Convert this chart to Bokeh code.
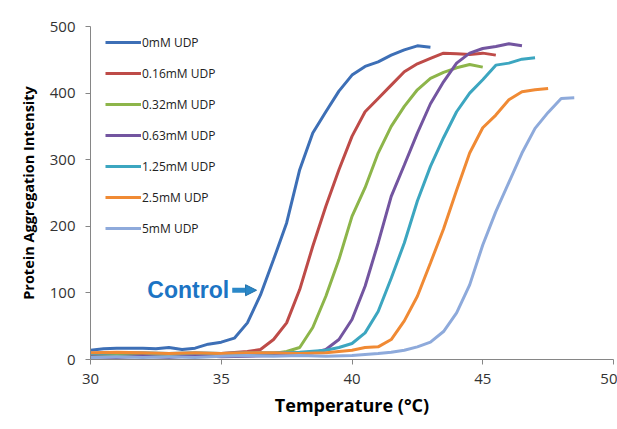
from bokeh.plotting import figure
from bokeh.models import Range1d, Legend, LegendItem, Label, Arrow, NormalHead, FixedTicker
from bokeh.embed import file_html
from bokeh.resources import INLINE

# ---- data (temperature in °C, aggregation intensity) ----
series_names = ["0mM UDP", "0.16mM UDP", "0.32mM UDP", "0.63mM UDP",
                "1.25mM UDP", "2.5mM UDP", "5mM UDP"]
series_colors = ["#3D6FB6", "#BE4B48", "#8DB54A", "#7355A0",
                 "#3CA6C0", "#F08A34", "#8EAADB"]

t_0mM = [30, 30.5, 31, 31.5, 32, 32.5, 33, 33.5, 34, 34.5, 35, 35.5, 36, 36.5, 37,
         37.5, 38, 38.5, 39, 39.5, 40, 40.5, 41, 41.5, 42, 42.5, 43]
i_0mM = [14, 16, 17, 17, 17, 16, 18, 15, 17, 23, 26, 32, 55, 97, 150,
         205, 285, 340, 372, 403, 427, 440, 447, 457, 465, 471, 469]

t_016mM = [30, 31, 32, 33, 34, 35, 36, 36.5, 37, 37.5, 38, 38.5, 39, 39.5, 40,
           40.5, 41, 41.5, 42, 42.5, 43, 43.5, 44, 44.5, 45, 45.5]
i_016mM = [8, 9, 8, 9, 8, 9, 12, 15, 30, 55, 105, 170, 230, 285, 335,
           372, 392, 412, 432, 444, 452, 460, 459, 458, 460, 457]

t_032mM = [30, 31, 32, 33, 34, 35, 36, 37, 37.5, 38, 38.5, 39, 39.5, 40, 40.5,
           41, 41.5, 42, 42.5, 43, 43.5, 44, 44.5, 45]
i_032mM = [5, 6, 5, 7, 6, 6, 8, 9, 12, 18, 48, 95, 150, 215, 258,
           310, 350, 380, 405, 422, 431, 438, 443, 439]

t_063mM = [30, 31, 32, 33, 34, 35, 36, 37, 38, 38.5, 39, 39.5, 40, 40.5, 41,
           41.5, 42, 42.5, 43, 43.5, 44, 44.5, 45, 45.5, 46, 46.5]
i_063mM = [4, 3, 5, 3, 6, 4, 5, 6, 8, 10, 15, 30, 60, 110, 175,
           245, 292, 340, 384, 417, 445, 460, 467, 470, 474, 471]

t_125mM = [30, 31, 32, 33, 34, 35, 36, 37, 38, 39, 39.5, 40, 40.5, 41, 41.5,
           42, 42.5, 43, 43.5, 44, 44.5, 45, 45.5, 46, 46.5, 47]
i_125mM = [9, 10, 10, 9, 10, 9, 10, 10, 11, 14, 18, 24, 40, 72, 122,
           175, 238, 290, 333, 372, 400, 420, 442, 445, 451, 453]

t_25mM = [30, 31, 32, 33, 34, 35, 36, 37, 38, 39, 40, 40.5, 41, 41.5, 42,
          42.5, 43, 43.5, 44, 44.5, 45, 45.5, 46, 46.5, 47, 47.5]
i_25mM = [10, 11, 10, 9, 10, 9, 10, 10, 9, 10, 14, 18, 19, 30, 58,
          95, 145, 196, 254, 310, 348, 367, 390, 402, 405, 407]

t_5mM = [30, 31, 32, 33, 34, 35, 36, 37, 38, 39, 40, 41, 41.5, 42, 42.5,
         43, 43.5, 44, 44.5, 45, 45.5, 46, 46.5, 47, 47.5, 48, 48.5]
i_5mM = [3, 4, 3, 4, 3, 5, 6, 5, 6, 5, 6, 9, 11, 14, 19,
         26, 42, 70, 112, 172, 222, 266, 310, 347, 371, 392, 393]

x_ticks = [30, 35, 40, 45, 50]
y_ticks = [0, 100, 200, 300, 400, 500]

annot_text = "Control"
annot_text_x, annot_text_y = 35.3, 104
arrow_x0, arrow_x1, arrow_y = 35.42, 36.35, 104

all_t = [t_0mM, t_016mM, t_032mM, t_063mM, t_125mM, t_25mM, t_5mM]
all_i = [i_0mM, i_016mM, i_032mM, i_063mM, i_125mM, i_25mM, i_5mM]

p = figure(width=617, height=429, output_backend="svg", toolbar_location=None,
           x_range=Range1d(30, 50), y_range=Range1d(0, 500),
           min_border_left=90, min_border_right=4, min_border_top=26, min_border_bottom=70)
p.outline_line_color = None
p.xgrid.grid_line_color = None
p.ygrid.grid_line_color = None

items = []
for name, col, t, y in zip(series_names, series_colors, all_t, all_i):
    r = p.line(t, y, line_color=col, line_width=3)
    items.append(LegendItem(label=name, renderers=[r]))

legend = Legend(items=items, location=(15, 121), orientation="vertical",
                border_line_color=None, background_fill_alpha=0,
                padding=0, margin=0, spacing=11, glyph_width=36, glyph_height=20,
                label_height=20, label_standoff=1,
                label_text_font="Open Sans", label_text_font_size="12px",
                label_text_color="#222222")
p.add_layout(legend)

for ax in (p.xaxis[0], p.yaxis[0]):
    ax.axis_line_color = "#868686"
    ax.major_tick_line_color = "#868686"
    ax.minor_tick_line_color = None
    ax.major_tick_in = 0
    ax.major_tick_out = 5
    ax.major_label_text_font = "Open Sans"
    ax.major_label_text_font_size = "15px"
    ax.major_label_text_color = "#333333"
    ax.axis_label_text_font = "Open Sans"
    ax.axis_label_text_font_style = "bold"
    ax.axis_label_text_color = "#000000"

p.xaxis.ticker = FixedTicker(ticks=x_ticks)
p.yaxis.ticker = FixedTicker(ticks=y_ticks)
p.xaxis.axis_label = "Temperature (°C)"
p.yaxis.axis_label = "Protein Aggregation Intensity"
p.xaxis.axis_label_text_font_size = "18px"
p.yaxis.axis_label_text_font_size = "14.5px"
p.xaxis.major_label_standoff = 9
p.yaxis.major_label_standoff = 10
p.xaxis.axis_label_standoff = 6
p.yaxis.axis_label_standoff = 9

p.add_layout(Label(x=annot_text_x, y=annot_text_y, text=annot_text,
                   text_font="Liberation Sans", text_font_style="bold",
                   text_font_size="23px", text_color="#1C74C4",
                   text_align="right", text_baseline="middle"))
p.add_layout(Arrow(x_start=arrow_x0, y_start=arrow_y, x_end=arrow_x1, y_end=arrow_y,
                   line_color="#2B88C8", line_width=5,
                   end=NormalHead(size=11, fill_color="#2B88C8", line_color="#1F6FA8",
                                  line_width=1)))

open("out.html", "w").write(file_html(p, INLINE))
